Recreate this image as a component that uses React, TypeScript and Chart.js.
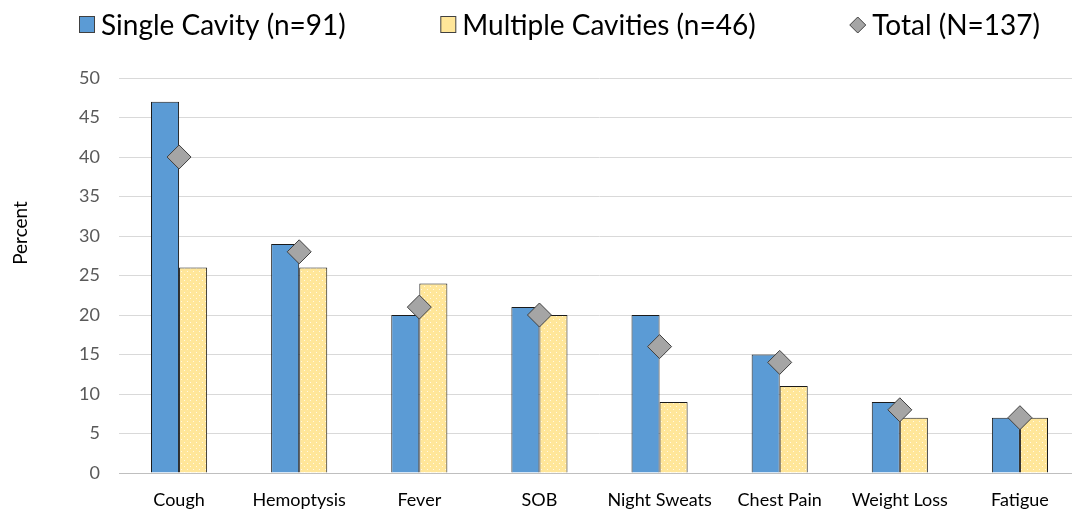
import React, { useEffect, useRef } from "react";
import { Chart, registerables } from "chart.js";

Chart.register(...registerables);

const categories = ["Cough", "Hemoptysis", "Fever", "SOB", "Night Sweats", "Chest Pain", "Weight Loss", "Fatigue"];
const singleCavity = [47, 29, 20, 21, 20, 15, 9, 7];
const multipleCavities = [26, 26, 24, 20, 9, 11, 7, 7];
const total = [40, 28, 21, 20, 16, 14, 8, 7];
const yTitle = "Percent";

const FONT = "Lato, 'Liberation Sans', sans-serif";
const BLUE = "#5B9BD5";
const YELLOW = "#FFE699";
const GRAY = "#A5A5A5";

function makePattern(): CanvasPattern | string {
  const c = document.createElement("canvas");
  c.width = 6;
  c.height = 6;
  const ctx = c.getContext("2d");
  if (!ctx) return YELLOW;
  ctx.fillStyle = YELLOW;
  ctx.fillRect(0, 0, 6, 6);
  ctx.fillStyle = "rgba(255,255,255,0.75)";
  ctx.fillRect(1, 1, 1, 1);
  ctx.fillRect(4, 4, 1, 1);
  return ctx.createPattern(c, "repeat") || YELLOW;
}

const customLegend = {
  id: "customLegend",
  afterDraw(chart: any) {
    const ctx = chart.ctx;
    const ds = chart.data.datasets;
    const order = [1, 2, 0];
    ctx.save();
    ctx.font = `28px ${FONT}`;
    ctx.textBaseline = "middle";
    const cy = 25;
    const boxW = 15;
    const gapText = 7;
    const items = order.map((i) => {
      const text = ds[i].label as string;
      const w = boxW + gapText + ctx.measureText(text).width;
      return { i, text, w };
    });
    const startX = 79;
    const endX = 1040;
    const sum = items.reduce((a, b) => a + b.w, 0);
    const gap = (endX - startX - sum) / (items.length - 1);
    let x = startX;
    items.forEach((it) => {
      if (it.i === 0) {
        const r = 8;
        const cx = x + boxW / 2;
        ctx.beginPath();
        ctx.moveTo(cx - r, cy);
        ctx.lineTo(cx, cy - r);
        ctx.lineTo(cx + r, cy);
        ctx.lineTo(cx, cy + r);
        ctx.closePath();
        ctx.fillStyle = GRAY;
        ctx.fill();
        ctx.strokeStyle = "#404040";
        ctx.lineWidth = 1;
        ctx.stroke();
      } else {
        ctx.fillStyle = it.i === 1 ? BLUE : YELLOW;
        ctx.fillRect(x + 0.5, cy - 8.5, boxW, 16);
        ctx.strokeStyle = "#404040";
        ctx.lineWidth = 1;
        ctx.strokeRect(x + 0.5, cy - 8.5, boxW, 16);
      }
      ctx.fillStyle = "#000";
      ctx.textAlign = "left";
      ctx.fillText(it.text, x + boxW + gapText, cy + 1);
      x += it.w + gap;
    });
    // y axis title
    ctx.font = `19px ${FONT}`;
    ctx.translate(21, 233);
    ctx.rotate(-Math.PI / 2);
    ctx.textAlign = "center";
    ctx.fillStyle = "#000";
    ctx.fillText(yTitle, 0, 0);
    ctx.restore();
  },
};

export default function App() {
  const ref = useRef<HTMLCanvasElement>(null);
  useEffect(() => {
    document.body.style.margin = "0";
    document.body.style.overflow = "hidden";
    if (!ref.current) return;
    const pattern = makePattern();
    const chart = new Chart(ref.current, {
      type: "bar",
      data: {
        labels: categories,
        datasets: [
          {
            type: "line",
            label: "Total (N=137)",
            data: total,
            showLine: false,
            pointStyle: "rectRot",
            pointRadius: 12,
            pointHoverRadius: 12,
            pointBackgroundColor: GRAY,
            pointBorderColor: "#404040",
            pointBorderWidth: 1,
            backgroundColor: GRAY,
            borderColor: "#404040",
            order: 0,
          } as any,
          {
            label: "Single Cavity (n=91)",
            data: singleCavity,
            backgroundColor: BLUE,
            borderColor: "#1a1a1a",
            borderWidth: 1,
            order: 1,
          },
          {
            label: "Multiple Cavities (n=46)",
            data: multipleCavities,
            backgroundColor: pattern as any,
            borderColor: "#1a1a1a",
            borderWidth: 1,
            order: 2,
          },
        ],
      },
      options: {
        animation: false,
        responsive: false,
        maintainAspectRatio: false,
        layout: { padding: { left: 0, right: 1, top: 78, bottom: 0 } },
        datasets: {
          bar: { categoryPercentage: 0.467, barPercentage: 1 },
        },
        plugins: {
          tooltip: { enabled: false },
          legend: { display: false },
        },
        scales: {
          x: {
            grid: { display: false },
            border: { color: "#BFBFBF" },
            ticks: { font: { family: FONT, size: 18 }, color: "#000", padding: 8, maxRotation: 0 },
            afterFit: (s: any) => {
              s.height = 41;
            },
          },
          y: {
            min: 0,
            max: 50,
            ticks: { stepSize: 5, autoSkip: false, font: { family: FONT, size: 18 }, color: "#595959", padding: 19 },
            grid: { color: "#D9D9D9", drawTicks: false },
            border: { display: false },
            afterFit: (s: any) => {
              s.width = 119;
            },
          },
        },
      },
      plugins: [customLegend],
    });
    return () => chart.destroy();
  }, []);
  return (
    <div style={{ width: 1072, height: 514, overflow: "hidden" }}>
      <canvas ref={ref} width={1093} height={514} style={{ width: 1093, height: 514, display: "block" }} />
    </div>
  );
}
